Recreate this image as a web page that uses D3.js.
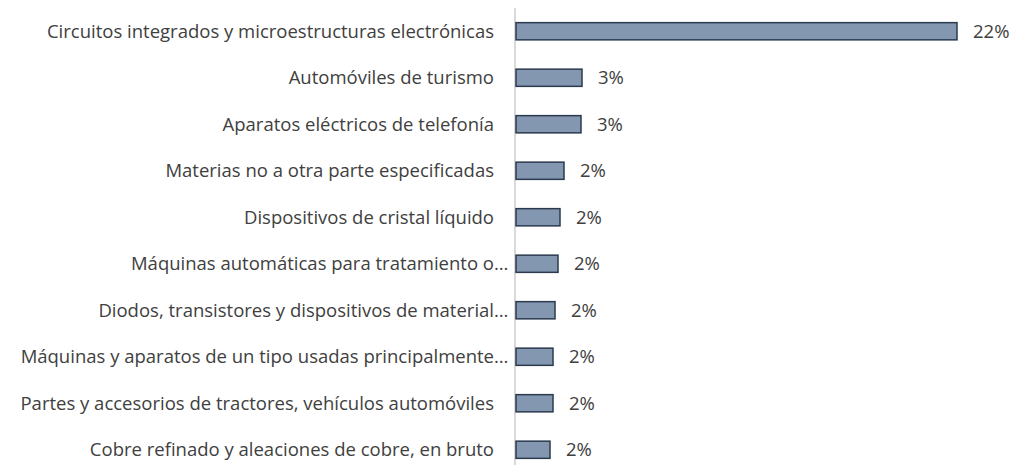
<!DOCTYPE html>
<html lang="es">
<head>
<meta charset="UTF-8">
<title>Principales productos</title>
<script src="https://d3js.org/d3.v7.min.js"></script>
<style>
  body { margin: 0; padding: 0; background: #fff; }
  text { font-family: "Open Sans", sans-serif; fill: #404040; }
  .cat { font-size: 18.5px; }
  .val { font-size: 18.5px; }
</style>
</head>
<body>
<div id="chart"></div>
<script>
// categorías (las que terminan en "…" van recortadas como en el original)
const categories = [
  "Circuitos integrados y microestructuras electrónicas",
  "Automóviles de turismo",
  "Aparatos eléctricos de telefonía",
  "Materias no a otra parte especificadas",
  "Dispositivos de cristal líquido",
  "Máquinas automáticas para tratamiento o…",
  "Diodos, transistores y dispositivos de material…",
  "Máquinas y aparatos de un tipo usadas principalmente…",
  "Partes y accesorios de tractores, vehículos automóviles",
  "Cobre refinado y aleaciones de cobre, en bruto"
];
const values = [22.05, 3.3, 3.25, 2.4, 2.2, 2.1, 1.95, 1.85, 1.85, 1.7];
const valueLabels = ["22%", "3%", "3%", "2%", "2%", "2%", "2%", "2%", "2%", "2%"];

const width = 1011, height = 465;
const axisX = 515;

const svg = d3.select("#chart").append("svg")
  .attr("width", width)
  .attr("height", height);

const x = d3.scaleLinear()
  .domain([0, 22.05])
  .range([axisX + 1, 957]);

const y = d3.scaleBand()
  .domain(categories)
  .range([8, 473])
  .paddingInner(0.63)
  .paddingOuter(0.315);

// eje vertical
svg.append("line")
  .attr("x1", axisX).attr("x2", axisX)
  .attr("y1", 8).attr("y2", height)
  .attr("stroke", "#d9d9d9")
  .attr("stroke-width", 2);

svg.append("g")
  .selectAll("rect")
  .data(values)
  .join("rect")
  .attr("x", x(0))
  .attr("y", (d, i) => y(categories[i]))
  .attr("width", d => x(d) - x(0))
  .attr("height", y.bandwidth())
  .attr("fill", "#8497b0")
  .attr("stroke", "#2b3a4e")
  .attr("stroke-width", 1.5);

// etiquetas de categoría
const cat = svg.append("g").selectAll("g")
  .data(categories)
  .join("g")
  .attr("transform", d => `translate(0,${y(d) + y.bandwidth() / 2})`);

cat.append("text")
  .attr("class", "cat")
  .attr("x", 494)
  .attr("dy", "0.35em")
  .attr("text-anchor", "end")
  .text(d => d.replace("…", ""));

cat.filter(d => d.endsWith("…"))
  .append("text")
  .attr("class", "cat")
  .attr("x", 494)
  .attr("dy", "0.35em")
  .text("…");

// etiquetas de valor
svg.append("g").selectAll("text")
  .data(values)
  .join("text")
  .attr("class", "val")
  .attr("x", d => x(d) + 16)
  .attr("y", (d, i) => y(categories[i]) + y.bandwidth() / 2)
  .attr("dy", "0.35em")
  .text((d, i) => valueLabels[i]);
</script>
</body>
</html>
